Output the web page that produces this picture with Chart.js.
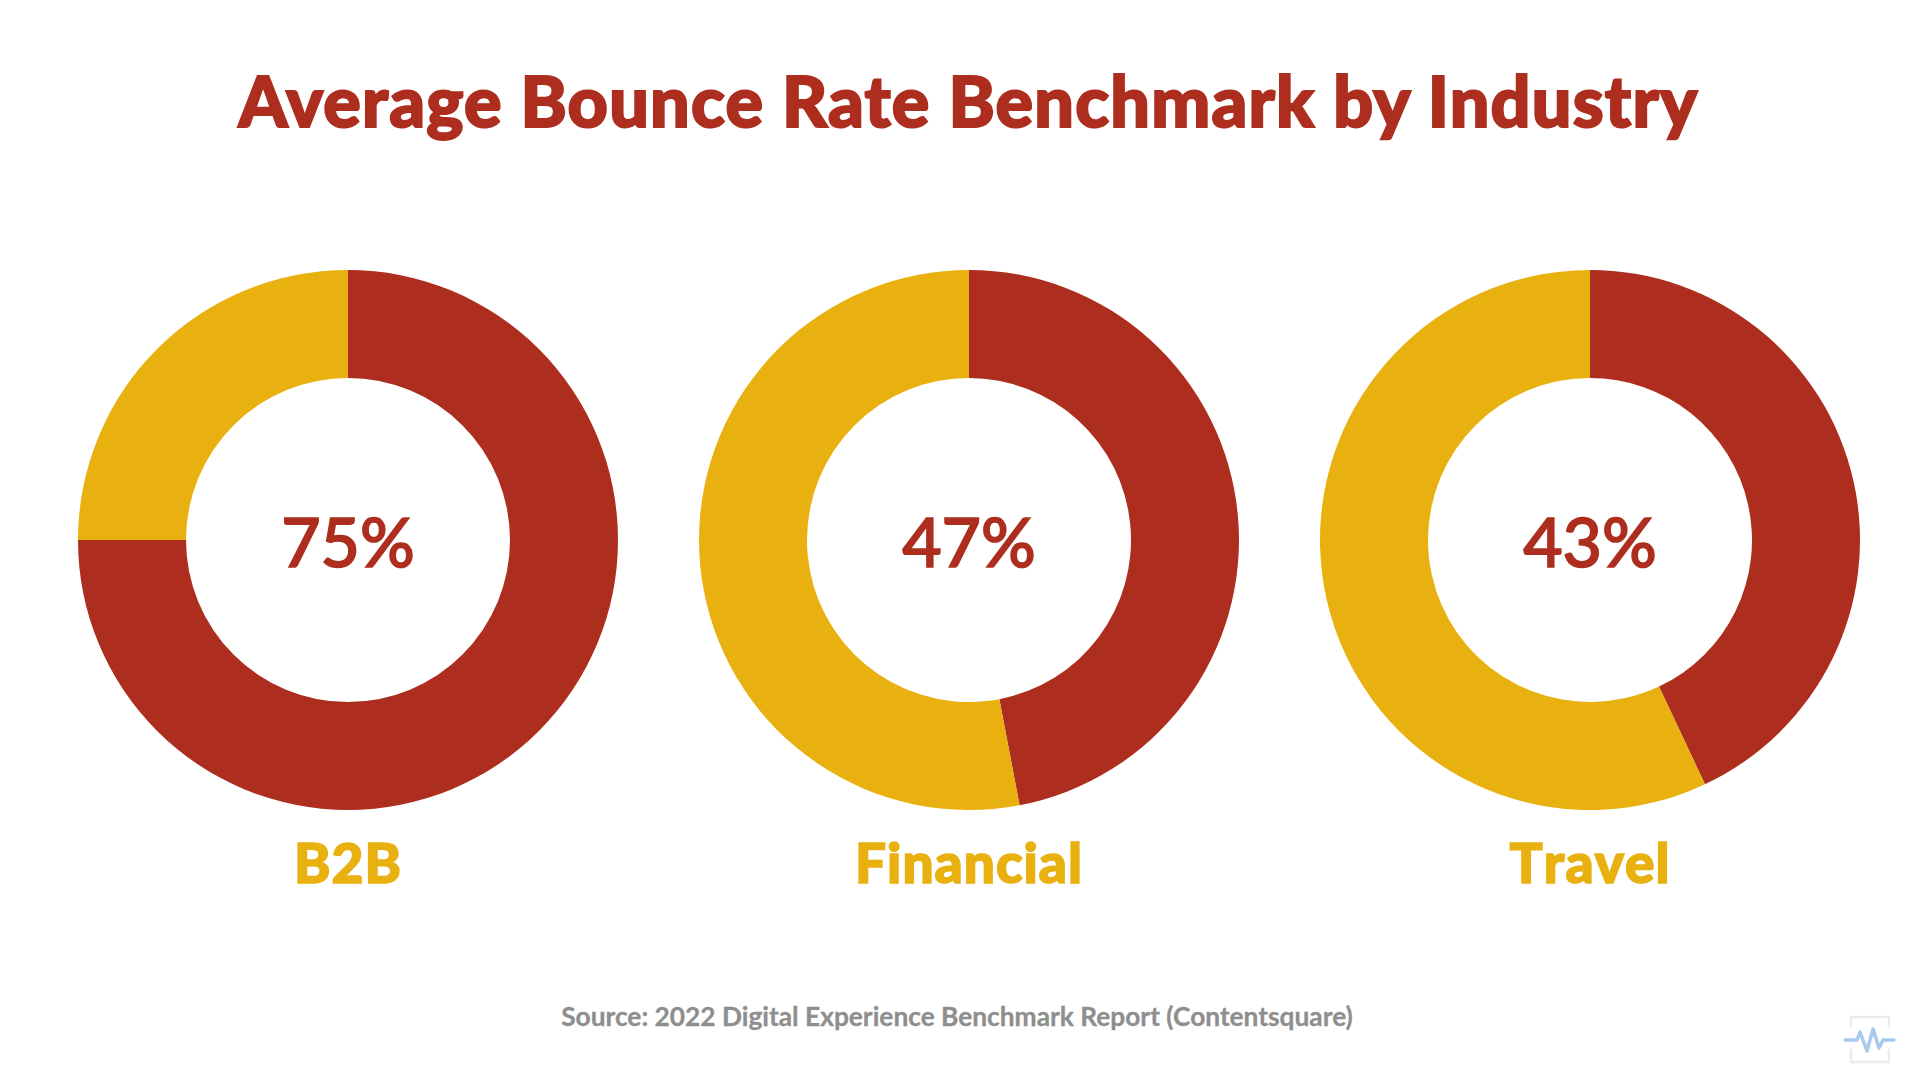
<!DOCTYPE html>
<html>
<head>
<meta charset="utf-8">
<title>Average Bounce Rate Benchmark by Industry</title>
<script src="https://cdn.jsdelivr.net/npm/chart.js@4"></script>
<style>
    html, body { margin: 0; background: #ffffff; }
    #page { position: relative; width: 1920px; height: 1080px; overflow: hidden; font-family: Lato, sans-serif; }
    canvas { position: absolute; top: 270px; }
    .txt { position: absolute; left: 0; white-space: nowrap; text-align: center; line-height: 1; }
    #title { top: 65px; width: 1937px; font-size: 70px; font-weight: 900; color: #ad2e1e; letter-spacing: 1.2px; -webkit-text-stroke: 2px #ad2e1e; }
    .cat { top: 835px; width: 540px; font-size: 55px; font-weight: 900; color: #e8b110; letter-spacing: 1px; font-kerning: none; -webkit-text-stroke: 1.6px #e8b110; }
    #source { top: 1003px; width: 1914px; font-size: 26.3px; font-weight: 700; color: #8e8e8e; -webkit-text-stroke: 0.3px #8e8e8e; }
    #logo { position: absolute; left: 1840px; top: 1012px; }
</style>
</head>
<body>
<div id="page">
    <div class="txt" id="title">Average Bounce Rate Benchmark by Industry</div>
    <canvas id="chart0" width="540" height="540" style="left:78px"></canvas>
    <canvas id="chart1" width="540" height="540" style="left:699px"></canvas>
    <canvas id="chart2" width="540" height="540" style="left:1320px"></canvas>
    <div class="txt cat" id="cat0" style="left:78px"></div>
    <div class="txt cat" id="cat1" style="left:699px"></div>
    <div class="txt cat" id="cat2" style="left:1320px"></div>
    <div class="txt" id="source">Source: 2022 Digital Experience Benchmark Report (Contentsquare)</div>
    <svg id="logo" width="60" height="56" viewBox="0 0 60 56" fill="none" stroke-linecap="round" stroke-linejoin="round">
        <path d="M11 14V5H49V14M11 38V50H49V38" stroke="#ececec" stroke-width="2.5"/>
        <path d="M5 28H17L20 20L27 39L33 17L39 36L43 28H54" stroke="#a9c8f0" stroke-width="3.5"/>
    </svg>
</div>

<script>
const categories = ["B2B", "Financial", "Travel"];
const bounceRates = [75, 47, 43];
const remainders = [25, 53, 57];

const RED = "#ad2e1e";
const YELLOW = "#e8b110";

// percentage in the hole of the ring
const centerText = {
    id: "centerText",
    afterDraw(chart) {
        const ctx = chart.ctx;
        const arc = chart.getDatasetMeta(0).data[0];
        const texto = chart.data.datasets[0].data[0] + "%";
        ctx.save();
        ctx.font = "500 68px Lato";
        ctx.fillStyle = RED;
        ctx.strokeStyle = RED;
        ctx.lineWidth = 1.6;
        ctx.textAlign = "center";
        ctx.textBaseline = "alphabetic";
        ctx.fillText(texto, arc.x, arc.y + 27);
        ctx.strokeText(texto, arc.x, arc.y + 27);
        ctx.restore();
    }
};

categories.forEach((categoria, i) => {
    document.getElementById("cat" + i).textContent = categoria;

    new Chart(document.getElementById("chart" + i).getContext("2d"), {
        type: "doughnut",
        data: {
            labels: ["Bounce rate", "Other"],
            datasets: [{
                data: [bounceRates[i], remainders[i]],
                backgroundColor: [RED, YELLOW],
                borderWidth: 0
            }]
        },
        options: {
            responsive: false,
            animation: false,
            devicePixelRatio: 1,
            cutout: "60%",
            plugins: {
                legend: { display: false },
                tooltip: { enabled: false }
            }
        },
        plugins: [centerText]
    });
});
</script>
</body>
</html>
